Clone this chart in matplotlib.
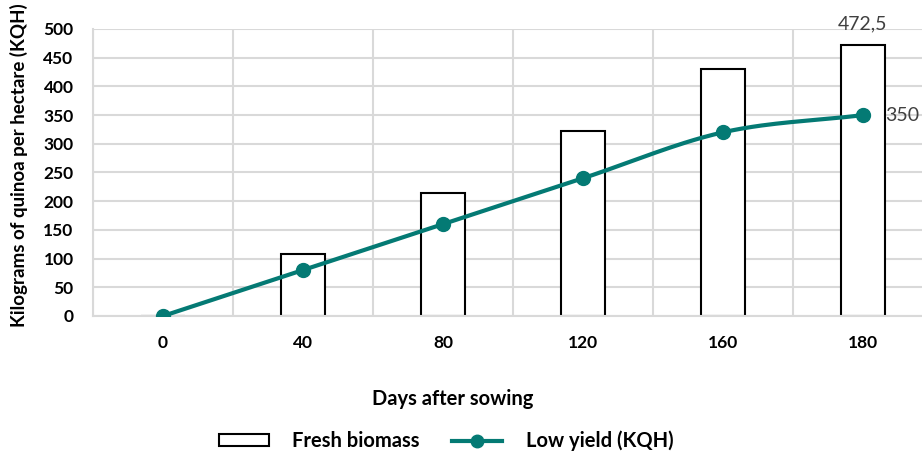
import matplotlib.pyplot as plt
import numpy as np
from matplotlib.patches import Patch
from matplotlib.lines import Line2D

plt.rcParams['font.family'] = ['Lato', 'DejaVu Sans']

# days after sowing and the two series
days = ['0', '40', '80', '120', '160', '180']
fresh_biomass = [0, 107.5, 215, 322.5, 430, 472.5]
low_yield = [0, 80, 160, 240, 320, 350]

teal = '#047a74'
grid_grey = '#d9d9d9'


def smooth(x, y, steps=30):
  """
  Catmull-Rom curve through the points, like the smoothed line option
  of a spreadsheet chart.
  """
  x = np.asarray(x, float)
  y = np.asarray(y, float)
  px = np.concatenate([[2*x[0] - x[1]], x, [2*x[-1] - x[-2]]])
  py = np.concatenate([[2*y[0] - y[1]], y, [2*y[-1] - y[-2]]])
  xs, ys = [], []
  t = np.linspace(0, 1, steps)
  for i in range(1, len(px) - 2):
    for p, out in ((px, xs), (py, ys)):
      p0, p1, p2, p3 = p[i-1], p[i], p[i+1], p[i+2]
      out.extend(0.5*((2*p1) + (-p0 + p2)*t + (2*p0 - 5*p1 + 4*p2 - p3)*t**2
                      + (-p0 + 3*p1 - 3*p2 + p3)*t**3))
  return np.array(xs), np.array(ys)


fig = plt.figure(figsize=(9.22, 4.54), dpi=100)
ax = fig.add_axes([93/922, 138/454, 840/922, 287/454])

x = np.arange(len(days))
ax.bar(x, fresh_biomass, width=0.31, facecolor='white', edgecolor='black',
       linewidth=1.5, zorder=2)

sx, sy = smooth(x, low_yield)
ax.plot(sx, sy, color=teal, linewidth=3, zorder=3, solid_capstyle='round')
ax.plot(x, low_yield, 'o', color=teal, markersize=10, zorder=4)

# value labels on the last category
ax.annotate(f"{fresh_biomass[-1]}".replace('.', ','), (x[-1], fresh_biomass[-1]),
            xytext=(0, 9), textcoords='offset points', ha='center', va='bottom',
            fontsize=14, color='#404040', annotation_clip=False)
ax.annotate(f"{low_yield[-1]}", (x[-1], low_yield[-1]),
            xytext=(16, 0), textcoords='offset points', ha='left', va='center',
            fontsize=14, color='#404040', annotation_clip=False)

ax.set_xlim(-0.5, len(days) - 0.5)
ax.set_ylim(0, 500)
ax.set_yticks(np.arange(0, 501, 50))
ax.set_xticks(x)
ax.set_xticklabels(days)
ax.set_xticks(np.arange(-0.5, len(days), 1), minor=True)

ax.grid(axis='y', which='major', color=grid_grey, linewidth=1.5, zorder=0)
ax.grid(axis='x', which='minor', color=grid_grey, linewidth=1.5, zorder=0)
ax.set_axisbelow(True)
for side in ['top', 'right']:
  ax.spines[side].set_visible(False)
for side in ['left', 'bottom']:
  ax.spines[side].set_color(grid_grey)
  ax.spines[side].set_linewidth(1.5)

ax.tick_params(axis='both', which='both', length=0, labelsize=12.5)
ax.tick_params(axis='x', pad=14)
ax.tick_params(axis='y', pad=14)
for lab in ax.get_xticklabels() + ax.get_yticklabels():
  lab.set_fontweight('bold')

fig.text(453/922, 1 - 399/454, "Days after sowing", fontsize=14.5,
         fontweight='bold', ha='center', va='center')
fig.text(19/922, 1 - 327/454, "Kilograms of quinoa per hectare (KQH)",
         fontsize=13.5, fontweight='bold', rotation=90, ha='center', va='bottom')

handles = [
  Patch(facecolor='white', edgecolor='black', linewidth=1.5),
  Line2D([0], [0], color=teal, linewidth=3, marker='o', markersize=9),
]
leg = fig.legend(handles, ['Fresh biomass', 'Low yield (KQH)'], ncol=2,
                 loc='center', bbox_to_anchor=(446/922, 1 - 441/454), frameon=False,
                 handlelength=2.5, handleheight=0.5, columnspacing=1.6,
                 handletextpad=1.15, prop={'weight': 'bold', 'size': 14.5})

fig.savefig('out.png', dpi=100)
